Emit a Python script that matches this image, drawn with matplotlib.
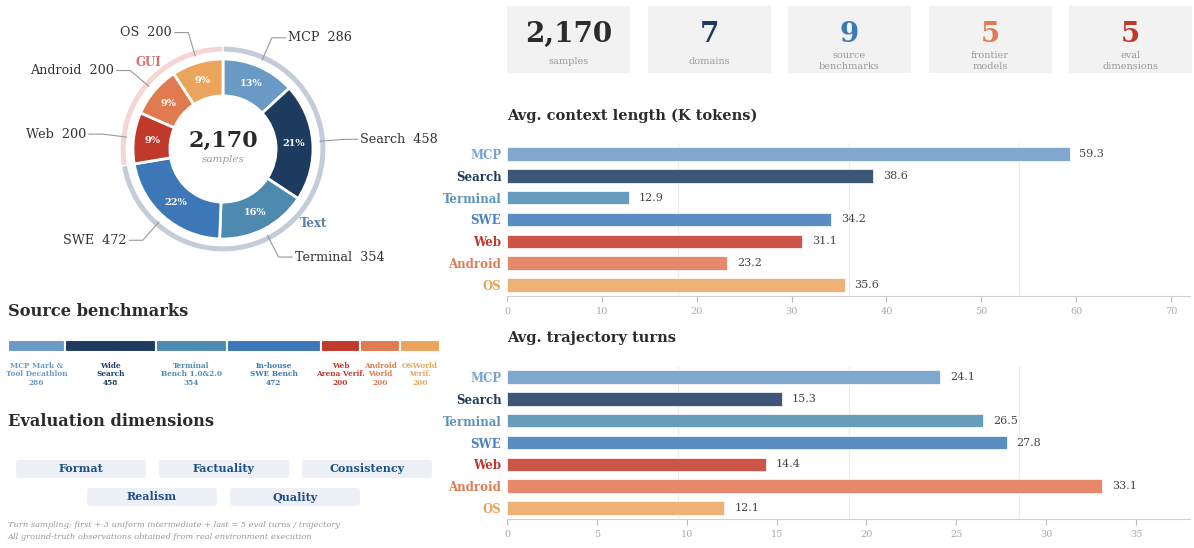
import matplotlib.pyplot as plt
import numpy as np
from matplotlib.patches import Wedge, Rectangle, FancyBboxPatch

plt.rcParams['font.family'] = ['DejaVu Serif']

# datos
domains = ['MCP', 'Search', 'Terminal', 'SWE', 'Web', 'Android', 'OS']
counts = [286, 458, 354, 472, 200, 200, 200]
ctx_len = [59.3, 38.6, 12.9, 34.2, 31.1, 23.2, 35.6]
turns = [24.1, 15.3, 26.5, 27.8, 14.4, 33.1, 12.1]
n_text = 4  # los 4 primeros son "Text", el resto "GUI"

bench_names = ['MCP Mark &\nTool Decathlon', 'Wide\nSearch', 'Terminal\nBench 1.0&2.0',
               'In-house\nSWE Bench', 'Web\nArena Verif.', 'Android\nWorld', 'OSWorld\nVerif.']

stat_values = ['2,170', '7', '9', '5', '5']
stat_labels = ['samples', 'domains', 'source\nbenchmarks', 'frontier\nmodels', 'eval\ndimensions']

eval_dims = ['Format', 'Factuality', 'Consistency', 'Realism', 'Quality']
notes = ['Turn sampling: first + 3 uniform intermediate + last = 5 eval turns / trajectory',
         'All ground-truth observations obtained from real environment execution']

# colores
dom_colors = ['#6a9ac6', '#1d3a5f', '#4e8aaf', '#3c78b8', '#c0392b', '#e07a50', '#eba45c']
bar_colors = ['#80a8cf', '#3d5675', '#679dbc', '#5a8ec3', '#cc5548', '#e5896a', '#eeb176']
lbl_colors = ['#7aa3cc', '#1d3a5f', '#5b93b8', '#4a82bd', '#c0392b', '#e07a50', '#eba45c']
stat_colors = ['#2b2b2b', '#1d3a5f', '#3c78b8', '#e07a50', '#c0392b']

W, H = 1194, 548
fig = plt.figure(figsize=(W / 100, H / 100), dpi=100)


def box(x0, y0, x1, y1):
    return [x0 / W, 1 - y1 / H, (x1 - x0) / W, (y1 - y0) / H]


# capa de fondo en pixeles
ov = fig.add_axes([0, 0, 1, 1])
ov.set_xlim(0, W)
ov.set_ylim(H, 0)
ov.axis('off')

# --- donut ---
cx, cy, R = 223, 149, 90
ax = fig.add_axes(box(cx - 1.7 * R, cy - 1.7 * R, cx + 1.7 * R, cy + 1.7 * R))
wedges, _, pcts = ax.pie(counts, colors=dom_colors, startangle=90, counterclock=False,
                         radius=1, autopct=lambda p: f'{p:.0f}%', pctdistance=0.79,
                         wedgeprops=dict(width=0.41, edgecolor='white', linewidth=2),
                         textprops=dict(color='white', fontweight='bold', fontsize=7))
ax.set_xlim(-1.7, 1.7)
ax.set_ylim(-1.7, 1.7)
ax.set_aspect('equal')

frac_text = sum(counts[:n_text]) / sum(counts)
edge = 90 - 360 * frac_text
ax.add_patch(Wedge((0, 0), 1.13, edge + 0.8, 89.2, width=0.04, color='#c3ccd8'))
ax.add_patch(Wedge((0, 0), 1.13, 90.8, edge + 360 - 0.8, width=0.04, color='#f5d6d4'))
ax.text(-0.83, 0.96, 'GUI', color='#d9706a', fontweight='bold', fontsize=8.5, ha='center', va='center')
ax.text(1.01, -0.83, 'Text', color='#5b7ea6', fontweight='bold', fontsize=8.5, ha='center', va='center')

for w, name, c in zip(wedges, domains, counts):
    a = np.deg2rad((w.theta1 + w.theta2) / 2)
    x0, y0 = 1.08 * np.cos(a), 1.08 * np.sin(a)
    x1, y1 = 1.35 * np.cos(a), 1.35 * np.sin(a)
    s = 1 if x1 > 0 else -1
    x2 = x1 + s * 0.15
    ax.plot([x0, x1, x2], [y0, y1, y1], color='#999999', lw=0.8, clip_on=False)
    ax.text(x2 + s * 0.03, y1, f'{name}  {c}', ha='left' if s > 0 else 'right',
            va='center', fontsize=9.2, color='#333333')

ax.text(0, 0.09, f'{sum(counts):,}', ha='center', va='center', fontsize=16,
        fontweight='bold', color='#2b2b2b')
ax.text(0, -0.12, 'samples', ha='center', va='center', fontsize=7.5,
        style='italic', color='#999999')

# --- tarjetas de resumen ---
for i, (v, l, c) in enumerate(zip(stat_values, stat_labels, stat_colors)):
    x0 = 507 + i * 140.5
    ov.add_patch(Rectangle((x0, 6), 123, 67, color='#f2f2f2', lw=0))
    ov.text(x0 + 61.5, 34, v, ha='center', va='center', fontsize=20, fontweight='bold', color=c)
    ov.text(x0 + 61.5, 61, l, ha='center', va='center', fontsize=7, color='#9a9a9a',
            linespacing=1.15)

# --- source benchmarks ---
ov.text(8, 311, 'Source benchmarks', fontsize=11.7, fontweight='bold', color='#2b2b2b', va='center')
axb = fig.add_axes(box(8, 340, 440, 352))
left = np.concatenate([[0], np.cumsum(counts)[:-1]])
axb.barh(0, counts, left=left, height=1, color=dom_colors, edgecolor='white', linewidth=1.5)
axb.set_xlim(0, sum(counts))
axb.set_ylim(-0.5, 0.5)
axb.axis('off')
for l0, c, name, col in zip(left, counts, bench_names, dom_colors):
    axb.text(l0 + c / 2, -1.3, f'{name}\n{c}', ha='center', va='top', fontsize=5.3,
             fontweight='bold', color=col, linespacing=1.15, clip_on=False)

# --- evaluation dimensions ---
ov.text(8, 422, 'Evaluation dimensions', fontsize=11.7, fontweight='bold', color='#2b2b2b', va='center')
pill_pos = [(16, 460), (159, 460), (302, 460), (87, 488), (230, 488)]
for (px, py), d in zip(pill_pos, eval_dims):
    ov.add_patch(FancyBboxPatch((px, py), 130, 18, boxstyle='round,pad=0,rounding_size=3',
                                color='#edf1f7', lw=0))
    ov.text(px + 65, py + 9, d, ha='center', va='center', fontsize=8, fontweight='bold',
            color='#1f4e8c')
for k, t in enumerate(notes):
    ov.text(8, 525 + 12 * k, t, fontsize=5.95, style='italic', color='#999999', va='center')


# --- barras horizontales ---
def bar_panel(rect, vals, xmax, step, title, title_y):
    a = fig.add_axes(rect)
    y = np.arange(len(domains))
    a.barh(y, vals, height=0.62, color=bar_colors, edgecolor='white', linewidth=0.5, zorder=2)
    a.set_ylim(len(domains) - 0.5, -0.5)
    a.set_xlim(0, xmax)
    for g in np.arange(1, 4) * xmax / 4:
        a.axvline(g, color='#ececec', lw=0.8, zorder=0)
    for yi, v in zip(y, vals):
        a.annotate(f'{v:.1f}', (v, yi), xytext=(7, 0), textcoords='offset points',
                   va='center', fontsize=8, color='#444444')
    a.set_yticks(y, domains)
    for lbl, c in zip(a.get_yticklabels(), lbl_colors):
        lbl.set_color(c)
        lbl.set_fontweight('bold')
        lbl.set_fontsize(8.5)
    a.tick_params(axis='y', length=0, pad=4)
    a.set_xticks(np.arange(0, xmax, step))
    a.tick_params(axis='x', colors='#bbbbbb', labelcolor='#aaaaaa', labelsize=7, length=4, pad=4)
    for s in ['top', 'right', 'left']:
        a.spines[s].set_visible(False)
    a.spines['bottom'].set_color('#d0d0d0')
    ov.text(507, title_y, title, fontsize=10.5, fontweight='bold', color='#2b2b2b', va='center')
    return a


bar_panel(box(507, 143, 1190, 296), ctx_len, 72, 10, 'Avg. context length (K tokens)', 116)
bar_panel(box(507, 366, 1190, 519), turns, 38, 5, 'Avg. trajectory turns', 338)

fig.savefig('out.png', dpi=100)
